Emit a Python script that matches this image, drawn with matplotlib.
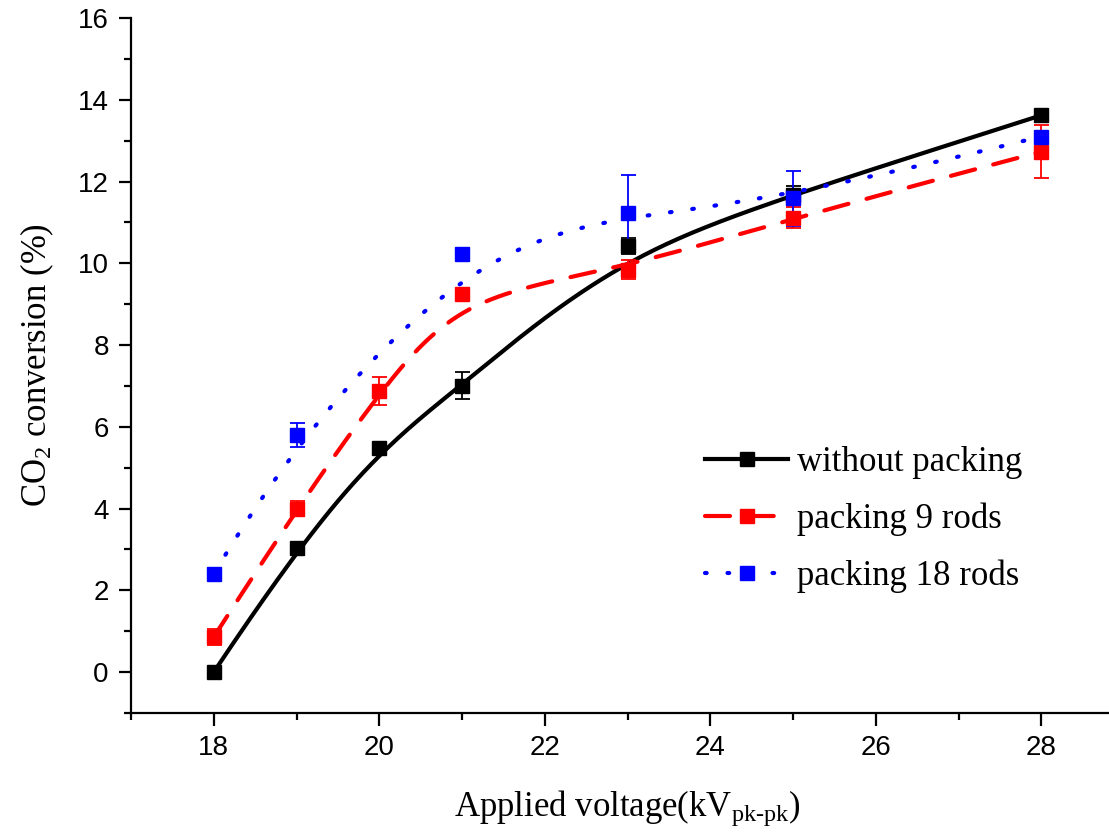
import numpy as np
import matplotlib
matplotlib.use("Agg")
import matplotlib.pyplot as plt
from matplotlib.ticker import MultipleLocator

# data
x_none = [18, 19, 20, 21, 23, 25, 28]
y_none = [0.0, 3.03, 5.47, 7.0, 10.42, 11.68, 13.62]
e_none = [0.05, 0.1, 0.12, 0.33, 0.2, 0.2, 0.1]

x_9 = [18, 19, 20, 21, 23, 25, 28]
y_9 = [0.86, 4.0, 6.88, 9.25, 9.84, 11.12, 12.73]
e_9 = [0.2, 0.18, 0.35, 0.1, 0.23, 0.25, 0.65]

x_18 = [18, 19, 21, 23, 25, 28]
y_18 = [2.4, 5.8, 10.22, 11.22, 11.59, 13.1]
e_18 = [0.08, 0.3, 0.12, 0.95, 0.67, 0.1]

labels = ["without packing", "packing 9 rods", "packing 18 rods"]
colors = ["black", "#ff0000", "#0000ff"]


def bspline(xs, ys, k=3, n=300):
    # clamped B-spline with the data points as control points (Origin-style)
    P = np.column_stack([xs, ys]).astype(float)
    m = len(P)
    inner = np.linspace(0, 1, m - k + 1)
    t = np.concatenate([[0] * k, inner, [1] * k])
    u = np.linspace(0, 1, n)
    u[-1] -= 1e-12
    B = np.zeros((n, len(t) - 1))
    for i in range(len(t) - 1):
        B[:, i] = (u >= t[i]) & (u < t[i + 1])
    for d in range(1, k + 1):
        Bn = np.zeros((n, len(t) - d - 1))
        for i in range(len(t) - d - 1):
            a = t[i + d] - t[i]
            b = t[i + d + 1] - t[i + 1]
            left = (u - t[i]) / a * B[:, i] if a > 0 else 0
            right = (t[i + d + 1] - u) / b * B[:, i + 1] if b > 0 else 0
            Bn[:, i] = left + right
        B = Bn
    C = B @ P
    return C[:, 0], C[:, 1]


plt.rcParams['font.family'] = ['Liberation Sans', 'DejaVu Sans']
plt.rcParams['mathtext.fontset'] = 'custom'
plt.rcParams['mathtext.rm'] = 'Liberation Serif'
plt.rcParams['mathtext.it'] = 'Liberation Serif:italic'

fig = plt.figure(figsize=(11.09, 8.32), dpi=100)
ax = fig.add_axes([131 / 1109, 119 / 832, 993 / 1109, 695 / 832])

styles = [dict(linestyle='-'),
          dict(linestyle=(0, (6.0, 4.5)), dash_capstyle='round'),
          dict(linestyle=(0, (0.4, 5.0)), dash_capstyle='round')]

series = [(x_none, y_none, e_none), (x_9, y_9, e_9), (x_18, y_18, e_18)]
handles = []
for (xs, ys, es), c, st, lab in zip(series, colors, styles, labels):
    sx, sy = bspline(xs, ys)
    ax.plot(sx, sy, color=c, lw=3, zorder=2, **st)
    ax.errorbar(xs, ys, yerr=es, fmt='none', ecolor=c, elinewidth=1.3,
                capsize=5.4, capthick=1.3, zorder=3)
    ax.plot(xs, ys, 's', color=c, ms=10, zorder=4)
    h, = ax.plot([], [], color=c, lw=3, marker='s', ms=10, **st)
    handles.append(h)

ax.set_xlim(17, 29)
ax.set_ylim(-1, 16)
ax.xaxis.set_major_locator(MultipleLocator(2))
ax.xaxis.set_minor_locator(MultipleLocator(1))
ax.yaxis.set_major_locator(MultipleLocator(2))
ax.yaxis.set_minor_locator(MultipleLocator(1))
ax.spines['top'].set_visible(False)
ax.spines['right'].set_visible(False)
for s in ['left', 'bottom']:
    ax.spines[s].set_linewidth(1.6)
ax.tick_params(which='major', direction='out', length=9, width=1.6,
               labelsize=20, pad=7)
ax.tick_params(which='minor', direction='out', length=5, width=1.6)

ax.set_xlabel(r'Applied voltage(kV$_{\rm pk\text{-}pk}$)', fontsize=25,
              family='Liberation Serif', labelpad=20)
ax.set_ylabel(r'CO$_{\rm 2}$ conversion (%)', fontsize=25,
              family='Liberation Serif', labelpad=16)

fig.legend(handles, labels, loc='upper left',
           bbox_to_anchor=(705 / 1109, 1 - 446 / 832), frameon=False,
           prop={'family': 'Liberation Serif', 'size': 25},
           handlelength=2.4, handletextpad=0.25, labelspacing=0.68,
           borderpad=0, borderaxespad=0, numpoints=1)

plt.savefig("out.png", dpi=100)
